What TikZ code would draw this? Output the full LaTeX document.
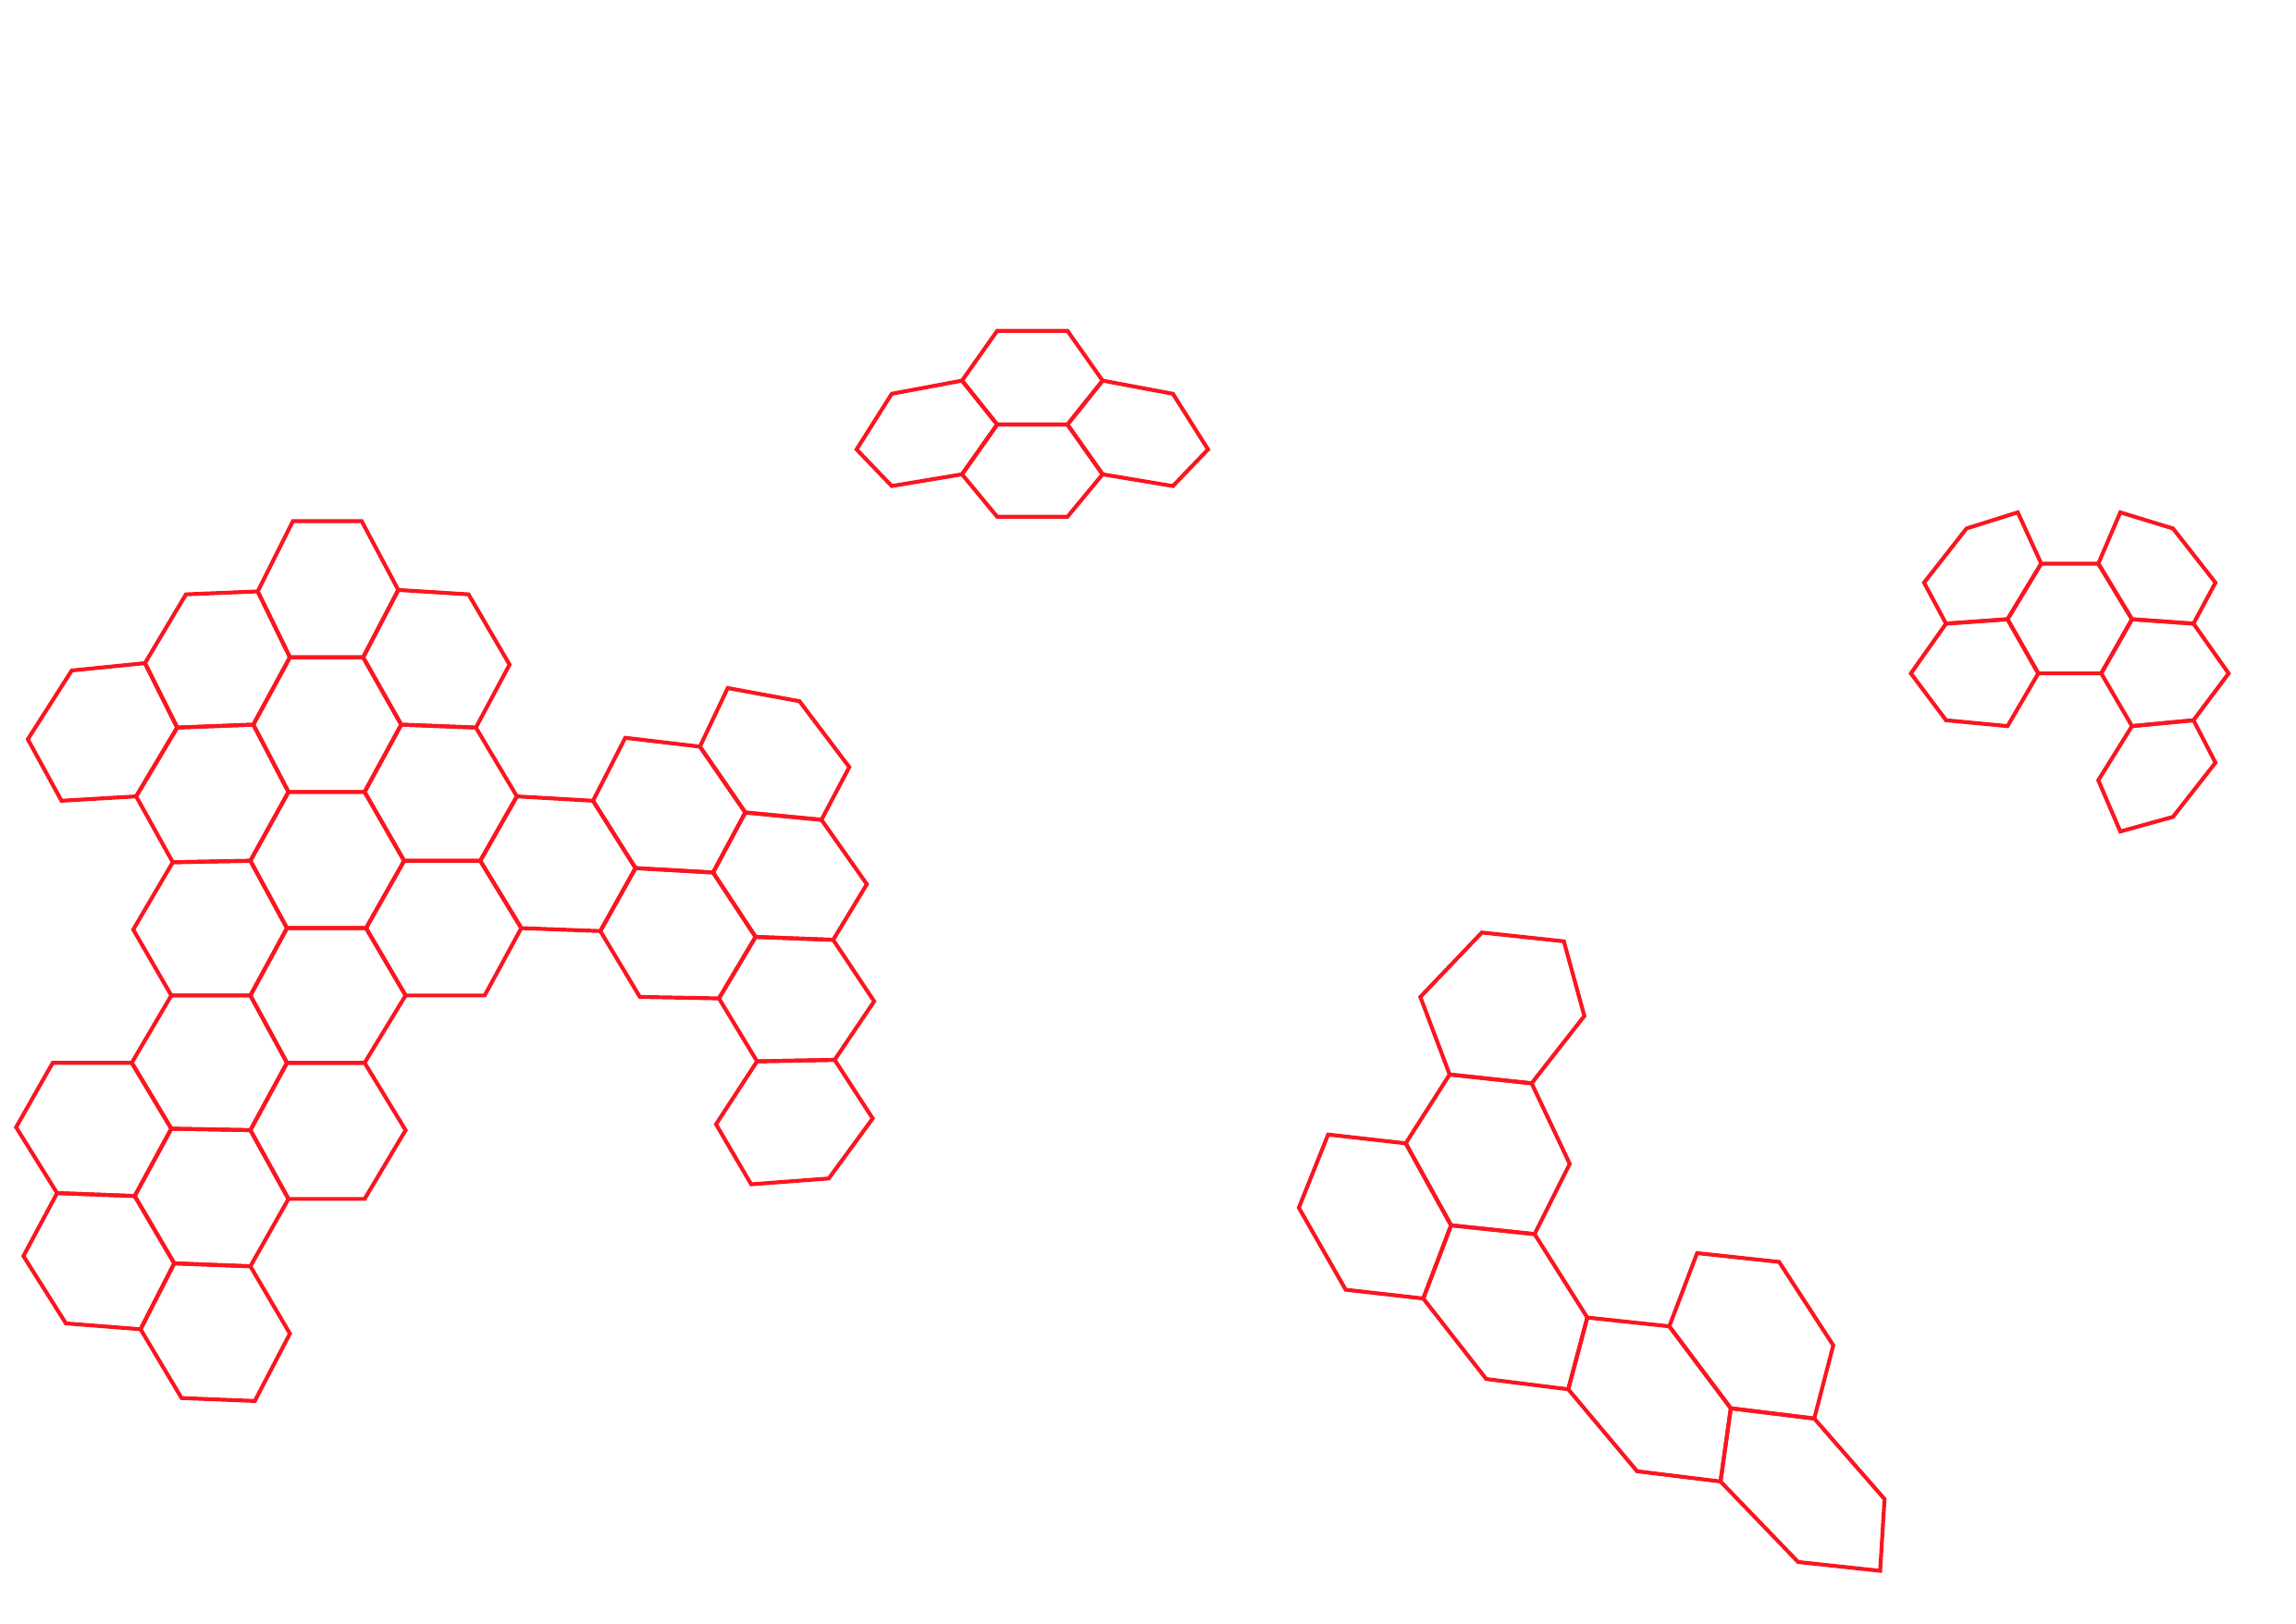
\documentclass[tikz,border=0pt]{standalone}
\usepackage{xcolor}
\usepackage{tikz}
\definecolor{hexred}{RGB}{250,22,32}

\begin{document}
\begin{tikzpicture}[
      x=0.01cm, y=-0.01cm,
      cell/.style={draw=hexred, line width=0.75pt, line join=miter}
    ]
    \useasboundingbox (0,0) rectangle (1568,1109);

    \draw[cell] (681,226) -- (729,226) -- (753,260) -- (729,290) -- (681,290) -- (657,260) -- cycle;
    \draw[cell] (657,260) -- (609,269) -- (585,307) -- (609,332) -- (657,324) -- (681,290) -- cycle;
    \draw[cell] (753,260) -- (801,269) -- (825,307) -- (801,332) -- (753,324) -- (729,290) -- cycle;
    \draw[cell] (681,290) -- (729,290) -- (753,324) -- (729,353) -- (681,353) -- (657,324) -- cycle;

    \draw[cell] (1343,361) -- (1378,350) -- (1394,385) -- (1371,423) -- (1329,426) -- (1314,398) -- cycle;
    \draw[cell] (1433,385) -- (1448,350) -- (1484,361) -- (1513,398) -- (1498,426) -- (1456,423) -- cycle;
    \draw[cell] (1394,385) -- (1433,385) -- (1456,423) -- (1435,460) -- (1392,460) -- (1371,423) -- cycle;
    \draw[cell] (1329,426) -- (1371,423) -- (1392,460) -- (1371,496) -- (1329,492) -- (1305,460) -- cycle;
    \draw[cell] (1456,423) -- (1498,426) -- (1522,460) -- (1498,492) -- (1456,496) -- (1435,460) -- cycle;
    \draw[cell] (1456,496) -- (1498,492) -- (1513,521) -- (1484,558) -- (1448,568) -- (1433,533) -- cycle;

    \draw[cell] (1012,637) -- (1068,643) -- (1082,694) -- (1046,740) -- (990,734) -- (970,681) -- cycle;
    \draw[cell] (990,734) -- (1046,740) -- (1072,795) -- (1048,843) -- (991,837) -- (960,781) -- cycle;
    \draw[cell] (907,775) -- (960,781) -- (991,837) -- (972,887) -- (919,881) -- (887,825) -- cycle;
    \draw[cell] (991,837) -- (1048,843) -- (1084,900) -- (1071,949) -- (1015,942) -- (972,887) -- cycle;
    \draw[cell] (1084,900) -- (1140,906) -- (1182,962) -- (1175,1012) -- (1118,1005) -- (1071,949) -- cycle;
    \draw[cell] (1159,856) -- (1215,862) -- (1252,919) -- (1239,969) -- (1182,962) -- (1140,906) -- cycle;
    \draw[cell] (1182,962) -- (1239,969) -- (1287,1024) -- (1284,1073) -- (1228,1067) -- (1175,1012) -- cycle;

    \draw[cell] (200,356) -- (247,356) -- (272,403) -- (248,449) -- (198,449) -- (176,404) -- cycle;
    \draw[cell] (127,406) -- (176,404) -- (198,449) -- (173,495) -- (121,497) -- (99,453) -- cycle;
    \draw[cell] (272,403) -- (320,406) -- (348,454) -- (325,497) -- (274,495) -- (248,449) -- cycle;
    \draw[cell] (49,458) -- (99,453) -- (121,497) -- (93,544) -- (42,547) -- (19,505) -- cycle;
    \draw[cell] (198,449) -- (248,449) -- (274,495) -- (249,541) -- (197,541) -- (173,495) -- cycle;
    \draw[cell] (121,497) -- (173,495) -- (197,541) -- (171,588) -- (118,589) -- (93,544) -- cycle;
    \draw[cell] (274,495) -- (325,497) -- (353,544) -- (328,588) -- (276,588) -- (249,541) -- cycle;
    \draw[cell] (197,541) -- (249,541) -- (276,588) -- (250,634) -- (196,634) -- (171,588) -- cycle;
    \draw[cell] (118,589) -- (171,588) -- (196,634) -- (171,680) -- (117,680) -- (91,635) -- cycle;
    \draw[cell] (276,588) -- (328,588) -- (356,634) -- (331,680) -- (277,680) -- (250,634) -- cycle;
    \draw[cell] (353,544) -- (405,547) -- (434,593) -- (410,636) -- (356,634) -- (328,588) -- cycle;
    \draw[cell] (427,504) -- (478,510) -- (509,555) -- (487,596) -- (434,593) -- (405,547) -- cycle;
    \draw[cell] (497,470) -- (546,479) -- (580,524) -- (561,560) -- (509,555) -- (478,510) -- cycle;
    \draw[cell] (434,593) -- (487,596) -- (516,640) -- (491,682) -- (437,681) -- (410,636) -- cycle;
    \draw[cell] (509,555) -- (561,560) -- (592,604) -- (569,642) -- (516,640) -- (487,596) -- cycle;
    \draw[cell] (516,640) -- (569,642) -- (597,684) -- (570,724) -- (517,725) -- (491,682) -- cycle;
    \draw[cell] (517,725) -- (570,724) -- (596,764) -- (566,805) -- (513,809) -- (489,768) -- cycle;
    \draw[cell] (196,634) -- (250,634) -- (277,680) -- (249,726) -- (196,726) -- (171,680) -- cycle;
    \draw[cell] (117,680) -- (171,680) -- (196,726) -- (171,772) -- (117,771) -- (90,726) -- cycle;
    \draw[cell] (196,726) -- (249,726) -- (277,772) -- (249,819) -- (197,819) -- (171,772) -- cycle;
    \draw[cell] (36,726) -- (90,726) -- (117,771) -- (92,817) -- (39,815) -- (11,770) -- cycle;
    \draw[cell] (117,771) -- (171,772) -- (197,819) -- (171,865) -- (119,863) -- (92,817) -- cycle;
    \draw[cell] (39,815) -- (92,817) -- (119,863) -- (96,908) -- (45,904) -- (16,858) -- cycle;
    \draw[cell] (119,863) -- (171,865) -- (198,911) -- (174,957) -- (124,955) -- (96,908) -- cycle;
  \end{tikzpicture}
\end{document}
